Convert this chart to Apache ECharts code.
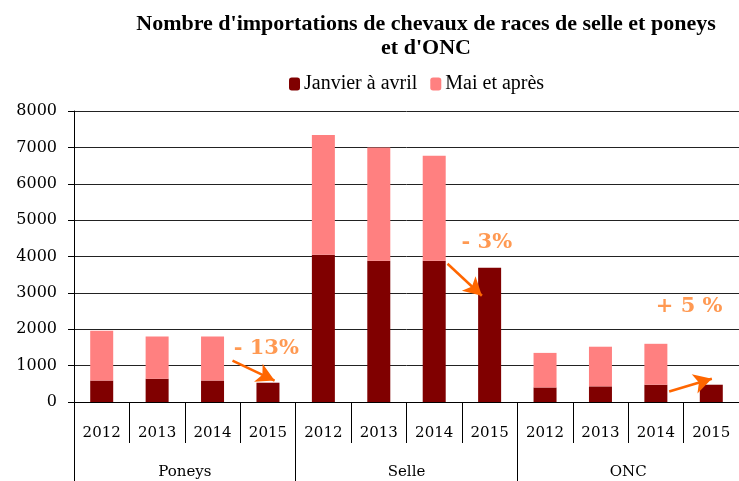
<!DOCTYPE html>
<html>
<head>
<meta charset="utf-8">
<script src="https://cdn.jsdelivr.net/npm/echarts@6/dist/echarts.min.js"></script>
<style>
  html, body { margin: 0; padding: 0; background: #fff; }
  #chart { width: 739px; height: 481px; }
</style>
</head>
<body>
<div id="chart"></div>
<script>
// categories
var years = ['2012', '2013', '2014', '2015', '2012', '2013', '2014', '2015', '2012', '2013', '2014', '2015'];
var groups = ['Poneys', 'Selle', 'ONC'];
// series values
var janvierAvril = [590, 640, 590, 530, 4050, 3880, 3880, 3690, 400, 430, 475, 475];
var maiApres = [1370, 1160, 1210, 0, 3290, 3120, 2890, 0, 950, 1090, 1125, 0];
// orange annotations: label, label anchor [x, y], arrow start, arrow tip (x = category index, y = value)
var notes = [
  { text: '- 13%', at: [2.97, 1470], from: [2.36, 1140], to: [3.12, 590] },
  { text: '- 3%', at: [6.95, 4380], from: [6.24, 3800], to: [6.86, 2920] },
  { text: '+ 5 %', at: [10.6, 2620], from: [10.24, 290], to: [11.01, 640] }
];

var myChart = echarts.init(document.getElementById('chart'));

var option = {
  animation: false,
  title: {
    text: "Nombre d'importations de chevaux de races de selle et poneys\net d'ONC",
    left: 421,
    textAlign: 'center',
    top: 7,
    textStyle: {
      fontFamily: 'Liberation Serif',
      fontWeight: 'bold',
      fontSize: 22,
      lineHeight: 24,
      color: '#000'
    }
  },
  legend: {
    data: ['Janvier à avril', 'Mai et après'],
    top: 69,
    left: 284,
    itemWidth: 11,
    itemHeight: 13,
    itemGap: 13,
    textStyle: {
      fontFamily: 'Liberation Serif',
      fontSize: 20,
      color: '#000',
      padding: [0, 0, 0, -1]
    }
  },
  grid: { left: 74, right: -2, top: 111, bottom: 79 },
  xAxis: [
    {
      type: 'category',
      data: years,
      position: 'bottom',
      axisLine: { lineStyle: { color: '#000', width: 1 } },
      axisTick: { show: true, interval: 0, length: 41, lineStyle: { color: '#000' } },
      axisLabel: { interval: 0, margin: 24, fontFamily: 'DejaVu Serif', fontSize: 15, color: '#000' },
      splitLine: { show: false }
    },
    {
      type: 'category',
      data: groups,
      position: 'bottom',
      axisLine: { show: false },
      axisTick: { show: true, interval: 0, length: 80, lineStyle: { color: '#000' } },
      axisLabel: { interval: 0, margin: 63, fontFamily: 'DejaVu Serif', fontSize: 15, color: '#000' },
      splitLine: { show: false }
    },
    {
      type: 'value',
      min: -0.5,
      max: 11.5,
      show: false
    }
  ],
  yAxis: {
    type: 'value',
    min: 0,
    max: 8000,
    interval: 1000,
    axisLine: { show: true, onZero: false, lineStyle: { color: '#000' } },
    axisTick: { show: true, inside: false, length: 6, lineStyle: { color: '#000' } },
    axisLabel: {
      margin: 17,
      fontFamily: 'DejaVu Serif',
      fontSize: 16,
      color: '#000',
      formatter: function (v) { return String(v); }
    },
    splitLine: { lineStyle: { color: '#222', width: 1 } }
  },
  series: [
    {
      name: 'Janvier à avril',
      type: 'bar',
      stack: 'total',
      barWidth: 23,
      xAxisIndex: 0,
      itemStyle: { color: '#800000' },
      data: janvierAvril
    },
    {
      name: 'Mai et après',
      type: 'bar',
      stack: 'total',
      barWidth: 23,
      xAxisIndex: 0,
      itemStyle: { color: '#FF8080' },
      data: maiApres
    },
    {
      name: 'notes',
      type: 'scatter',
      xAxisIndex: 2,
      symbolSize: 0,
      silent: true,
      label: {
        show: true,
        position: 'inside',
        formatter: function (p) { return notes[p.dataIndex].text; },
        fontFamily: 'DejaVu Serif',
        fontWeight: 'bold',
        fontSize: 21,
        color: '#FF7F27'
      },
      data: notes.map(function (n) { return n.at; }),
      markLine: {
        silent: true,
        symbol: ['none', 'arrow'],
        symbolSize: [15, 18],
        label: { show: false },
        lineStyle: { color: '#FF6600', width: 2.5, type: 'solid' },
        data: notes.map(function (n) {
          return [{ coord: n.from }, { coord: n.to }];
        })
      }
    }
  ]
};

window.onresize = myChart.resize;
myChart.setOption(option);
</script>
</body>
</html>
